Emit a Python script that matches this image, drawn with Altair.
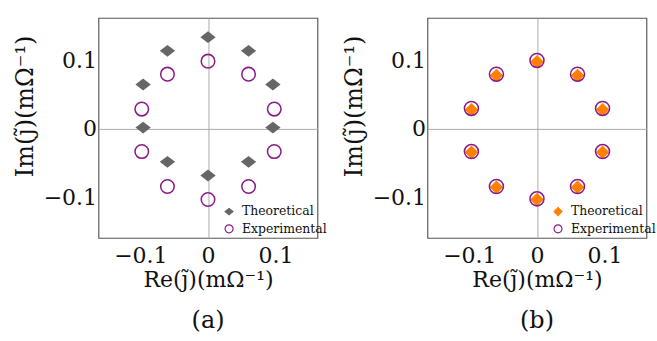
import altair as alt
import pandas as pd

series = ["Theoretical", "Experimental"]
tick_values = [-0.1, 0, 0.1]

# panel (a) values
a_theo_re = [0.0, -0.060, 0.060, -0.096, 0.096, -0.096, 0.096, -0.060, 0.060, 0.0]
a_theo_im = [0.134, 0.114, 0.114, 0.065, 0.065, 0.002, 0.002, -0.048, -0.048, -0.068]
a_exp_re = [0.0, -0.060, 0.060, -0.098, 0.098, -0.098, 0.098, -0.060, 0.060, 0.0]
a_exp_im = [0.099, 0.080, 0.080, 0.029, 0.029, -0.033, -0.033, -0.084, -0.084, -0.103]

# panel (b) values
b_theo_re = [0.0, -0.060, 0.060, -0.097, 0.097, -0.097, 0.097, -0.060, 0.060, 0.0]
b_theo_im = [0.098, 0.078, 0.078, 0.028, 0.028, -0.034, -0.034, -0.085, -0.085, -0.103]
b_exp_re = [0.0, -0.060, 0.060, -0.097, 0.097, -0.097, 0.097, -0.060, 0.060, 0.0]
b_exp_im = [0.100, 0.080, 0.080, 0.030, 0.030, -0.033, -0.033, -0.084, -0.084, -0.102]

FONT = "DejaVu Serif"
PURPLE = "#8a1c8a"


def frame(re_t, im_t, re_e, im_e):
    rows = []
    for x, y in zip(re_t, im_t):
        rows.append({"re": x, "im": y, "series": series[0], "k": 0})
    for x, y in zip(re_e, im_e):
        rows.append({"re": x, "im": y, "series": series[1], "k": 1})
    return pd.DataFrame(rows)


def axis(title, orient):
    extra = {}
    if orient == "y":
        extra = dict(titleY=92, titleFontSize=25)
    else:
        extra = dict(titleFontSize=23)
    return alt.Axis(
        values=tick_values, format=".1~f", title=title, grid=True,
        gridColor="#a8a8a8", gridWidth=1,
        gridOpacity={"condition": {"test": "datum.value == 0", "value": 1}, "value": 0},
        ticks=False, domain=False,
        labelFont=FONT, labelFontSize=23, labelColor="#111",
        titleFont=FONT, titleFontWeight="normal", titleColor="#111",
        labelPadding=8 if orient == "x" else 2,
        titlePadding=2 if orient == "x" else 6,
        **extra,
    )


def panel(df, theo_color, theo_shape, sizes, caption):
    leg = alt.Legend(
        orient="none", legendX=130, legendY=196, title=None,
        labelFont=FONT, labelFontSize=13, labelColor="#111", labelOffset=7,
        symbolSize=70, symbolStrokeWidth=1.2, padding=0, rowPadding=3,
    )
    chart = alt.Chart(df).mark_point(opacity=1).encode(
        x=alt.X("re:Q", scale=alt.Scale(domain=[-0.162, 0.162], nice=False, zero=False),
                axis=axis("Re(j̃)(mΩ⁻¹)", "x")),
        y=alt.Y("im:Q", scale=alt.Scale(domain=[-0.159, 0.162], nice=False, zero=False),
                axis=axis("Im(j̃)(mΩ⁻¹)", "y")),
        shape=alt.Shape("series:N", scale=alt.Scale(domain=series, range=[theo_shape, "circle"]), legend=leg),
        fill=alt.Fill("series:N", scale=alt.Scale(domain=series, range=[theo_color, "transparent"]), legend=leg),
        stroke=alt.Stroke("series:N", scale=alt.Scale(domain=series, range=[theo_color, PURPLE]), legend=leg),
        size=alt.Size("k:O", scale=alt.Scale(domain=[0, 1], range=sizes), legend=None),
        strokeWidth=alt.StrokeWidth("k:O", scale=alt.Scale(domain=[0, 1], range=[0, 1.6]), legend=None),
        order=alt.Order("k:Q"),
    ).properties(
        width=229, height=230,
        title=alt.TitleParams(caption, orient="bottom", anchor="middle", frame="group",
                              font=FONT, fontSize=25, fontWeight="normal", color="#111", offset=18),
    )
    return chart


pa = panel(frame(a_theo_re, a_theo_im, a_exp_re, a_exp_im), "#666666",
           "M-1,0L0,-0.78L1,0L0,0.78Z", [256, 200], "(a)")
pb = panel(frame(b_theo_re, b_theo_im, b_exp_re, b_exp_im), "#ff8000",
           "diamond", [200, 215], "(b)")

chart = alt.hconcat(pa, pb, spacing=14).resolve_scale(
    x="independent", y="independent", shape="independent", fill="independent",
    stroke="independent", size="independent", strokeWidth="independent",
).resolve_legend(
    shape="independent", fill="independent", stroke="independent",
).configure(
    padding={"left": 13, "top": 10, "right": 0, "bottom": 0},
    background="white",
).configure_view(stroke="#555555", strokeWidth=1.2)

chart.save("out.html", embed_options={"renderer": "svg", "actions": False})
